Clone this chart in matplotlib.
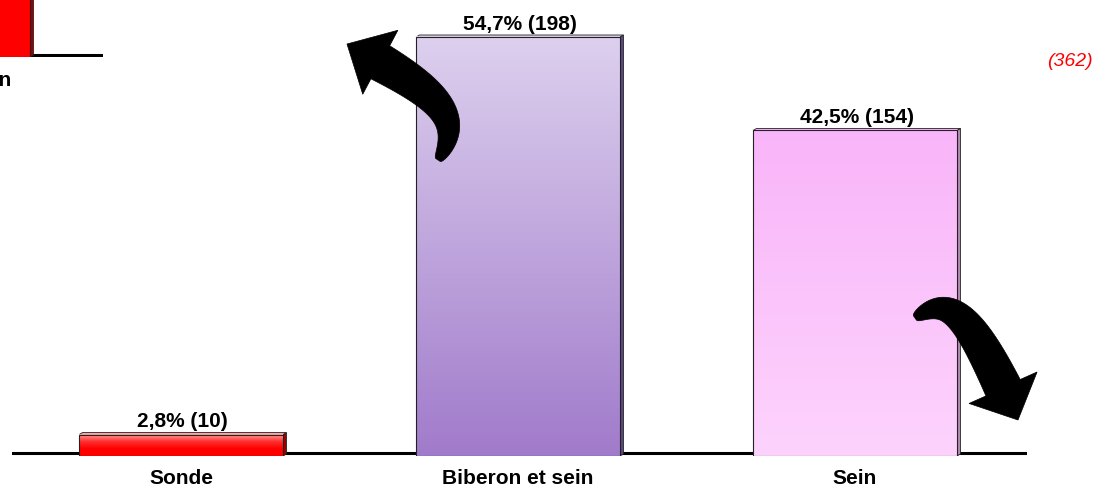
import numpy as np
import matplotlib.pyplot as plt
from matplotlib.colors import LinearSegmentedColormap
from matplotlib.patches import Rectangle, Polygon

categories = ["Sonde", "Biberon et sein", "Sein"]
percents = [2.8, 54.7, 42.5]
counts = [10, 198, 154]
total = 362

# neighbouring panel, only the foot of its last bar is in frame
prev_category = "Biberon"
prev_percent = 45.0

plt.rcParams['font.family'] = ['Liberation Sans', 'DejaVu Sans']

W, H = 1095, 488
fig = plt.figure(figsize=(W / 100, H / 100), dpi=100)

PX_PER_PCT = 7.66
PX_PER_UNIT = 337
BAR_W = 0.605
DX, DY = 3.5 / PX_PER_UNIT, 2 / PX_PER_PCT
EDGE = '#222222'

gradients = [
    ["#ffa4a4", "#ff3030", "#ff0000", "#ff0000"],
    ["#ddd0ee", "#a17bcb"],
    ["#f9b5f9", "#fdd3fd"],
]
sides = ["#9a0000", "#5b4882", "#b08ab0"]


def px_axes(left, bottom, width, height):
    ax = fig.add_axes([left / W, bottom / H, width / W, height / H])
    ax.set_facecolor('none')
    for s in ax.spines.values():
        s.set_visible(False)
    ax.set_yticks([])
    return ax


def draw_bar(ax, x, h, stops, side):
    x0, x1 = x - BAR_W / 2, x + BAR_W / 2
    ax.add_patch(Polygon([(x1, 0), (x1 + DX, DY), (x1 + DX, h + DY), (x1, h)],
                         closed=True, fc=side, ec=EDGE, lw=0.6, zorder=2))
    ax.add_patch(Polygon([(x0, h), (x0 + DX, h + DY), (x1 + DX, h + DY), (x1, h)],
                         closed=True, fc=stops[0], ec=EDGE, lw=0.6, zorder=2))
    cmap = LinearSegmentedColormap.from_list('bar', stops)
    grad = np.linspace(0, 1, 256).reshape(-1, 1)
    ax.imshow(grad, cmap=cmap, extent=[x0, x1, 0, h], aspect='auto',
              interpolation='bilinear', zorder=3)
    ax.add_patch(Rectangle((x0, 0), BAR_W, h, fc='none', ec=EDGE, lw=0.8, zorder=4))


def curved_arrow(p0, p1, p2, p3, w0, w1, head_len, head_w):
    # cubic bezier in pixel coords (origin top-left), tapered body + triangular head
    P = np.array([p0, p1, p2, p3], float)
    t = np.linspace(0, 1, 400)[:, None]
    pts = ((1 - t) ** 3 * P[0] + 3 * (1 - t) ** 2 * t * P[1]
           + 3 * (1 - t) * t ** 2 * P[2] + t ** 3 * P[3])
    tip = P[3]
    dist = np.hypot(*(pts - tip).T)
    nb = np.argmax(dist < head_len)
    body = pts[:nb + 1]
    tang = np.gradient(body, axis=0)
    tang /= np.hypot(*tang.T)[:, None]
    nrm = np.column_stack([-tang[:, 1], tang[:, 0]])
    s = np.linspace(0, 1, len(body)) ** 0.5
    wid = (w0 + (w1 - w0) * s)[:, None] / 2
    left, right = body + nrm * wid, body - nrm * wid
    base = body[-1]
    d = (tip - base) / np.hypot(*(tip - base))
    n = np.array([-d[1], d[0]])
    outline = np.vstack([left, [base + n * head_w / 2], [tip],
                         [base - n * head_w / 2], right[::-1]])
    frac = np.column_stack([outline[:, 0] / W, 1 - outline[:, 1] / H])
    fig.add_artist(Polygon(frac, closed=True, transform=fig.transFigure,
                           fc='black', ec='black', lw=0.5, zorder=10))


# main chart
ax = px_axes(12, 32, 1015, 456)
x = np.arange(len(categories))
ax.axhline(0.4, color='black', lw=2.2, zorder=1)
for i, (p, n) in enumerate(zip(percents, counts)):
    draw_bar(ax, x[i], p, gradients[i], sides[i])
    label = f"{p:.1f}%".replace('.', ',') + f" ({n})"
    ax.annotate(label, (x[i] + DX / 2, p + DY), xytext=(0, 1), textcoords='offset points',
                ha='center', va='bottom', fontsize=15, fontweight='bold')
ax.set_xlim(-169 / PX_PER_UNIT, (1015 - 169) / PX_PER_UNIT)
ax.set_ylim(0, 456 / PX_PER_PCT)
ax.set_xticks(x, categories, fontsize=15, fontweight='bold')
ax.tick_params(axis='x', length=0, pad=9)

# edge of the previous panel
ax_prev = px_axes(-300, 431, 403, 57)
ax_prev.axhline(0.3, color='black', lw=2.2, zorder=1)
draw_bar(ax_prev, 0, prev_percent, gradients[0], sides[0])
ax_prev.set_xlim(-228 / PX_PER_UNIT, (403 - 228) / PX_PER_UNIT)
ax_prev.set_ylim(0, 57 / PX_PER_PCT)
ax_prev.set_xticks([])
fig.text(12 / W, 1 - 81 / H, prev_category, ha='right', va='center',
         fontsize=15, fontweight='bold')

fig.text(1093 / W, 1 - 61 / H, f"({total})", ha='right', va='center',
         color='red', style='italic', fontsize=14)

curved_arrow((438, 160), (470, 112), (425, 86), (347, 44), 5, 38, 38, 73)
curved_arrow((915, 318), (952, 292), (972, 318), (1018, 420), 5, 38, 36, 75)

fig.savefig('out.png', dpi=100)
